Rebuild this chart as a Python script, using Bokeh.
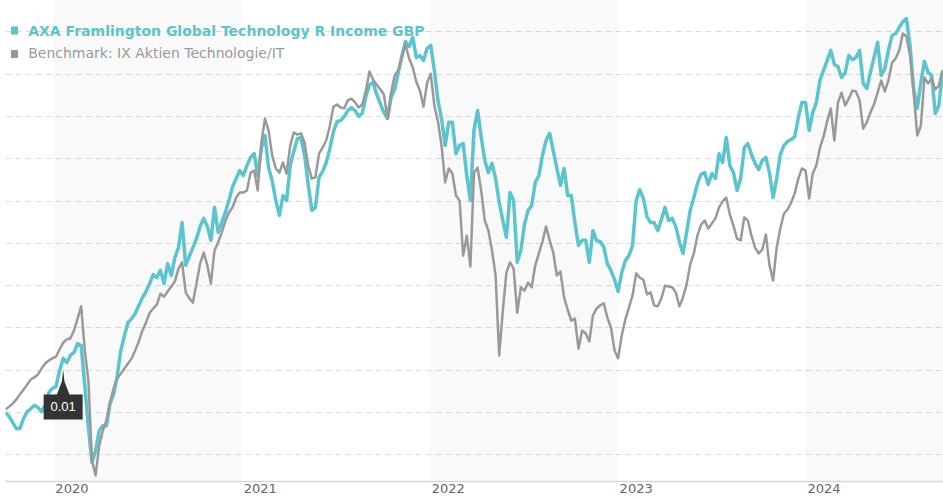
import pandas as pd
from bokeh.plotting import figure
from bokeh.models import (Range1d, FixedTicker, DatetimeTickFormatter, BoxAnnotation,
                          Label, PolyAnnotation, ColumnDataSource)
from bokeh.embed import file_html
from bokeh.resources import INLINE

# ---------------- data (cumulative performance, %) ----------------
START_DATE = "2019-09-30"
STEP = "7D"
FUND_NAME = "AXA Framlington Global Technology R Income GBP"
BENCH_NAME = "Benchmark: IX Aktien Technologie/IT"

fund = [
    0.0, -0.9, -2.4, -3.8, -3.8, -1.4, 0.2, 0.9, 1.7, 1.2,
    0.2, 1.7, 4.7, 5.7, 6.1, 9.9, 12.8, 11.8, 13.5, 14.2,
    16.3, 15.8, 6.4, -3.5, -11.8, -9.0, -4.3, -3.1, -3.1, 2.1,
    4.3, 8.7, 14.7, 18.2, 21.3, 22.2, 23.4, 25.3, 27.2, 28.6,
    30.5, 32.6, 31.9, 33.6, 30.5, 35.2, 32.4, 36.6, 39.0, 44.9,
    34.8, 36.9, 39.0, 41.1, 44.0, 45.9, 44.0, 40.7, 48.5, 42.6,
    44.9, 47.3, 50.1, 53.4, 55.3, 57.2, 56.0, 58.4, 60.3, 61.2,
    56.0, 62.4, 65.5, 57.9, 54.8, 50.1, 46.6, 51.3, 50.1, 58.4,
    61.7, 64.8, 65.0, 60.8, 53.9, 47.8, 48.5, 55.6, 57.0, 59.1,
    62.4, 66.4, 68.8, 69.0, 70.0, 71.4, 72.1, 71.4, 70.0, 70.7,
    74.7, 77.5, 78.0, 75.2, 73.0, 70.9, 69.5, 74.5, 76.4, 80.4,
    84.2, 87.7, 86.5, 88.7, 83.9, 84.4, 83.2, 86.1, 86.8, 80.9,
    73.8, 69.5, 63.1, 68.6, 68.6, 61.2, 63.1, 63.6, 56.0, 50.1,
    66.7, 71.4, 65.2, 59.6, 56.7, 58.9, 55.3, 49.6, 45.4, 41.4,
    52.0, 50.1, 35.5, 38.3, 44.4, 47.8, 48.9, 54.4, 56.0, 60.8,
    64.3, 66.0, 61.9, 57.7, 53.7, 57.7, 51.3, 51.3, 44.9, 39.5,
    40.7, 40.7, 35.5, 43.0, 40.7, 40.4, 39.2, 35.2, 33.6, 31.4,
    28.6, 33.1, 35.9, 37.1, 39.5, 50.1, 52.7, 50.6, 46.3, 44.9,
    44.9, 43.0, 45.6, 48.5, 45.4, 45.9, 44.0, 40.4, 37.6, 42.6,
    47.8, 50.8, 54.1, 56.3, 56.7, 53.9, 56.5, 55.3, 61.2, 59.1,
    65.0, 58.4, 56.7, 52.5, 55.3, 62.6, 63.6, 61.0, 58.9, 57.4,
    59.6, 60.3, 56.7, 50.8, 55.3, 61.0, 63.1, 64.1, 64.5, 65.2,
    69.7, 73.3, 73.3, 66.7, 70.9, 73.3, 78.5, 80.9, 83.2, 85.6,
    82.3, 81.8, 79.2, 80.4, 84.4, 83.4, 83.9, 85.6, 77.8, 76.6,
    80.4, 83.9, 87.5, 79.7, 81.3, 85.6, 89.1, 89.6, 91.0, 92.4,
    93.1, 86.8, 76.6, 71.9, 78.0, 83.0, 80.4, 79.7, 70.7, 72.6,
    80.4,
]

bench = [
    0.7, 1.4, 2.1, 3.1, 4.3, 5.4, 6.6, 7.8, 8.3, 9.0,
    10.4, 11.6, 12.3, 12.8, 13.2, 14.9, 16.5, 17.3, 17.5, 19.4,
    22.2, 25.1, 14.7, 7.6, -11.3, -14.9, -7.8, -4.3, -1.9, 2.4,
    5.7, 8.0, 9.2, 10.4, 11.6, 12.8, 14.7, 16.8, 19.4, 21.3,
    23.6, 24.6, 25.5, 28.1, 27.4, 28.6, 29.8, 31.0, 34.0, 35.5,
    28.4, 27.0, 26.0, 30.5, 35.2, 37.8, 34.8, 30.5, 38.3, 40.2,
    42.6, 45.2, 47.3, 48.5, 50.8, 52.0, 52.0, 52.5, 56.7, 57.2,
    52.5, 63.8, 69.5, 66.7, 60.8, 57.7, 56.7, 59.1, 56.5, 63.1,
    66.2, 65.7, 66.0, 63.8, 58.4, 55.3, 55.6, 61.2, 62.6, 64.3,
    67.8, 72.3, 72.8, 72.1, 71.9, 73.8, 74.2, 73.3, 72.1, 72.8,
    76.1, 80.6, 78.7, 77.5, 76.4, 75.2, 69.5, 75.6, 79.7, 80.9,
    84.2, 87.0, 83.7, 81.6, 78.2, 76.1, 72.3, 78.0, 80.1, 72.6,
    68.8, 63.1, 54.4, 57.7, 56.5, 51.3, 50.1, 37.1, 41.8, 34.5,
    56.7, 57.9, 52.5, 45.4, 43.0, 38.3, 32.4, 13.5, 24.1, 33.1,
    35.5, 34.0, 23.6, 29.6, 28.8, 30.7, 29.6, 34.8, 37.6, 40.4,
    44.0, 40.7, 37.8, 32.4, 33.3, 27.2, 24.3, 21.7, 22.2, 15.1,
    19.4, 18.7, 16.8, 22.9, 24.6, 25.3, 25.8, 22.5, 20.1, 14.7,
    12.8, 18.2, 22.0, 24.8, 27.7, 32.9, 31.9, 31.4, 27.9, 28.4,
    25.3, 25.1, 27.0, 30.0, 29.8, 29.6, 28.4, 25.1, 27.2, 30.3,
    35.0, 37.6, 41.8, 44.4, 45.4, 43.5, 44.7, 45.9, 48.5, 49.9,
    50.8, 46.8, 44.2, 41.1, 40.7, 46.1, 45.4, 41.8, 39.0, 37.6,
    38.5, 42.1, 34.8, 31.2, 39.0, 43.5, 47.0, 48.0, 49.6, 51.8,
    55.3, 57.7, 57.2, 50.6, 56.5, 58.4, 62.6, 65.2, 68.8, 71.9,
    64.3, 73.3, 75.6, 72.6, 74.2, 76.1, 75.9, 73.8, 67.1, 68.6,
    70.9, 72.8, 75.6, 78.5, 75.9, 78.5, 82.7, 83.7, 85.6, 89.6,
    88.9, 84.4, 75.6, 65.5, 67.8, 79.2, 77.8, 79.0, 76.4, 77.3,
    80.9,
]

YEARS = [2020, 2021, 2022, 2023, 2024]
SHADED_YEARS = [2020, 2022, 2024]
GRID_VALUES = [-10, 0, 10, 20, 30, 40, 50, 60, 70, 80, 90]
FLAG_DATE = "2020-01-20"
FLAG_TEXT = "0.01"

# ---------------- styling ----------------
TEAL = "#5cc4cc"
GREY = "#999999"
X_START = pd.Timestamp("2019-09-30")
X_END = pd.Timestamp("2024-09-25")
Y_MIN, Y_MAX = -16.3, 97.4
FW, FH = 938, 481

dates = pd.date_range(START_DATE, periods=len(fund), freq=STEP)
src = ColumnDataSource(dict(date=dates, fund=fund, bench=bench))


def ms(ts):
    return pd.Timestamp(ts).value / 1e6


p = figure(x_axis_type="datetime", y_axis_location=None,
           frame_width=FW, frame_height=FH,
           x_range=Range1d(ms(X_START), ms(X_END)),
           y_range=Range1d(Y_MIN, Y_MAX),
           output_backend="svg", toolbar_location=None,
           min_border_left=5, min_border_right=0, min_border_top=0, min_border_bottom=0,
           outline_line_color=None, background_fill_color="white",
           border_fill_color="white")

# alternating year bands
for y in SHADED_YEARS:
    p.add_layout(BoxAnnotation(left=ms(f"{y}-01-01"), right=ms(f"{y + 1}-01-01"),
                               fill_color="#000000", fill_alpha=0.025,
                               line_color=None, level="underlay"))

# grid
p.xgrid.visible = False
p.ygrid.ticker = FixedTicker(ticks=GRID_VALUES)
p.ygrid.grid_line_color = "#dcdcdc"
p.ygrid.grid_line_dash = "6 4"
p.ygrid.grid_line_width = 1

# x axis
tick_ms = [ms(pd.Timestamp(f"{y}-01-01") + pd.Timedelta(days=36)) for y in YEARS]
p.xaxis.ticker = FixedTicker(ticks=tick_ms)
fmt = "%Y"
p.xaxis.formatter = DatetimeTickFormatter(years=fmt, months=fmt, days=fmt, hours=fmt,
                                          minutes=fmt, seconds=fmt, milliseconds=fmt,
                                          microseconds=fmt, hourmin=fmt, minsec=fmt)
p.xaxis.major_tick_line_color = None
p.xaxis.minor_tick_line_color = None
p.xaxis.major_tick_out = 0
p.xaxis.major_tick_in = 0
p.xaxis.axis_line_color = "#d8d8d8"
p.xaxis.axis_line_width = 1.5
p.xaxis.major_label_standoff = 2
p.xaxis.major_label_text_font = "DejaVu Sans"
p.xaxis.major_label_text_font_size = "13px"
p.xaxis.major_label_text_color = "#666666"

# series
p.line("date", "fund", source=src, line_color=TEAL, line_width=3.5, line_join="round")
p.line("date", "bench", source=src, line_color=GREY, line_width=2.5, line_join="round")

# legend (drawn over the plot, as in the original)
p.add_layout(BoxAnnotation(left=5.5, right=12.5, top=455, bottom=447,
                           left_units="screen", right_units="screen",
                           top_units="screen", bottom_units="screen",
                           fill_color=TEAL, fill_alpha=1, line_color=None))
p.add_layout(BoxAnnotation(left=5.5, right=12.5, top=431.5, bottom=423.5,
                           left_units="screen", right_units="screen",
                           top_units="screen", bottom_units="screen",
                           fill_color=GREY, fill_alpha=1, line_color=None))
p.add_layout(Label(x=22.7, y=451, x_units="screen", y_units="screen", text=FUND_NAME,
                   text_font="DejaVu Sans", text_font_size="14px", text_font_style="bold",
                   text_color=TEAL, text_baseline="alphabetic"))
p.add_layout(Label(x=22.7, y=429, x_units="screen", y_units="screen", text=BENCH_NAME,
                   text_font="DejaVu Sans", text_font_size="14px",
                   text_color="#9a9a9a", text_baseline="alphabetic"))

# distribution flag anchored to the fund line
fi = dates.get_loc(pd.Timestamp(FLAG_DATE))
fx = (dates[fi] - X_START) / (X_END - X_START) * FW
fy = (fund[fi] - Y_MIN) / (Y_MAX - Y_MIN) * FH - 11
p.add_layout(PolyAnnotation(xs=[fx, fx + 1.3, fx + 6.5, fx - 6.5, fx - 1.3],
                            ys=[fy, fy - 12, fy - 25.5, fy - 25.5, fy - 12],
                            xs_units="screen", ys_units="screen",
                            fill_color="#333333", fill_alpha=1, line_color=None))
p.add_layout(BoxAnnotation(left=fx - 19.5, right=fx + 19.5, top=fy - 25, bottom=fy - 50,
                           left_units="screen", right_units="screen",
                           top_units="screen", bottom_units="screen",
                           fill_color="#333333", fill_alpha=1, line_color=None))
p.add_layout(Label(x=fx, y=fy - 37.5, x_units="screen", y_units="screen", text=FLAG_TEXT,
                   text_font="Liberation Sans", text_font_size="13px",
                   text_color="white", text_align="center", text_baseline="middle"))

open("out.html", "w").write(file_html(p, INLINE))
